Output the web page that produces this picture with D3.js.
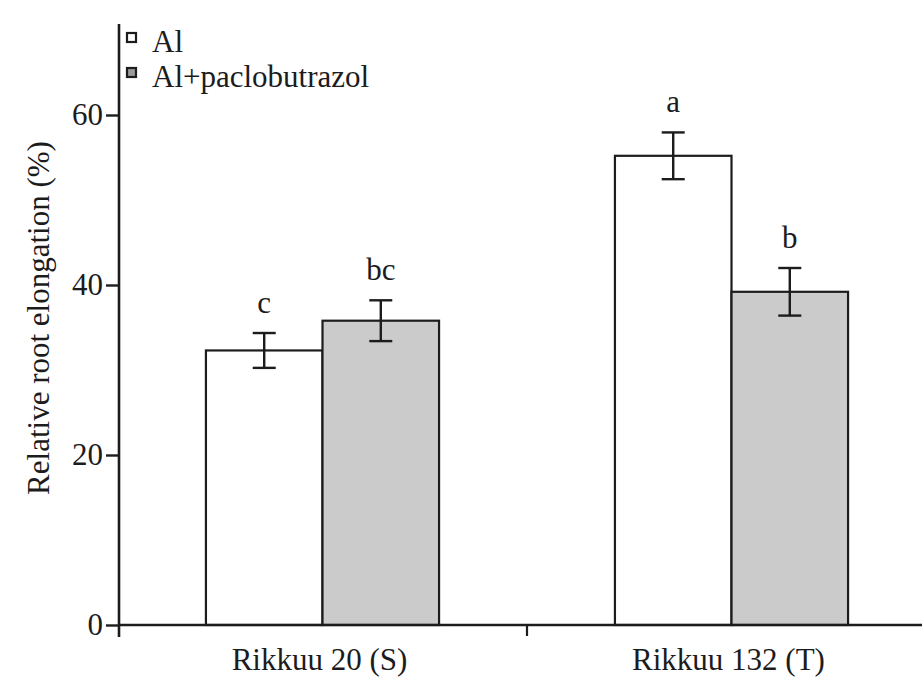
<!DOCTYPE html>
<html>
<head>
<meta charset="utf-8">
<script src="https://cdn.jsdelivr.net/npm/d3@7"></script>
<style>
  body { margin: 0; background: #fff; }
  svg text { font-family: "Liberation Serif", "Times New Roman", serif; fill: #1c1c1c; }
</style>
</head>
<body>
<div id="chart"></div>
<script>
// data
const cultivars = ["Rikkuu 20 (S)", "Rikkuu 132 (T)"];
const treatments = ["Al", "Al+paclobutrazol"];
const alValues = [32.3, 55.2];
const pacloValues = [35.8, 39.2];
const alErrors = [2.05, 2.75];
const pacloErrors = [2.4, 2.8];
const alLetters = ["c", "a"];
const pacloLetters = ["bc", "b"];
const yTicks = [0, 20, 40, 60];

const W = 922, H = 678;
const FS = 31;
const fills = { "Al": "#ffffff", "Al+paclobutrazol": "#cbcbcb" };

const rows = [];
cultivars.forEach((c, i) => {
  rows.push({ cultivar: c, treatment: "Al", value: alValues[i], err: alErrors[i], letter: alLetters[i] });
  rows.push({ cultivar: c, treatment: "Al+paclobutrazol", value: pacloValues[i], err: pacloErrors[i], letter: pacloLetters[i] });
});

const svg = d3.select("#chart").append("svg")
  .attr("width", W).attr("height", H);

const y = d3.scaleLinear().domain([0, 70]).range([625, 30]);
const x = d3.scaleBand().domain(cultivars)
  .range([118, 936]).paddingInner(0.43).paddingOuter(0.215);
const xs = d3.scaleBand().domain(treatments).range([0, x.bandwidth()]);

const axisX = 119;

// bars
svg.selectAll("rect.bar")
  .data(rows)
  .enter()
  .append("rect")
  .attr("class", "bar")
  .attr("x", d => x(d.cultivar) + xs(d.treatment))
  .attr("y", d => y(d.value))
  .attr("width", xs.bandwidth())
  .attr("height", d => y(0) - y(d.value))
  .attr("fill", d => fills[d.treatment])
  .attr("stroke", "#1c1c1c")
  .attr("stroke-width", 2.2);

// error bars
const cap = 11.5;
const eb = svg.selectAll("g.err").data(rows).enter().append("g")
  .attr("class", "err")
  .attr("stroke", "#1c1c1c").attr("stroke-width", 2.4);
const cx = d => x(d.cultivar) + xs(d.treatment) + xs.bandwidth() / 2;
eb.append("line").attr("x1", cx).attr("x2", cx)
  .attr("y1", d => y(d.value + d.err)).attr("y2", d => y(d.value - d.err));
eb.append("line").attr("x1", d => cx(d) - cap).attr("x2", d => cx(d) + cap)
  .attr("y1", d => y(d.value + d.err)).attr("y2", d => y(d.value + d.err));
eb.append("line").attr("x1", d => cx(d) - cap).attr("x2", d => cx(d) + cap)
  .attr("y1", d => y(d.value - d.err)).attr("y2", d => y(d.value - d.err));

// significance letters
svg.selectAll("text.letter").data(rows).enter().append("text")
  .attr("class", "letter")
  .attr("x", cx)
  .attr("y", d => y(d.value + d.err) - 20)
  .attr("text-anchor", "middle")
  .attr("font-size", FS)
  .text(d => d.letter);

// y axis
const yAxis = svg.append("g")
  .attr("transform", `translate(${axisX},0)`)
  .call(d3.axisLeft(y).tickValues(yTicks).tickSize(13).tickPadding(3).tickSizeOuter(0));
yAxis.select(".domain").remove();
yAxis.selectAll(".tick line").attr("stroke", "#1c1c1c").attr("stroke-width", 2.4);
yAxis.selectAll(".tick text")
  .attr("font-size", FS)
  .attr("fill", "#1c1c1c");
svg.append("line")
  .attr("x1", axisX).attr("x2", axisX)
  .attr("y1", 24).attr("y2", y(0) + 12)
  .attr("stroke", "#1c1c1c").attr("stroke-width", 2.6);

// x axis
svg.append("line")
  .attr("x1", axisX).attr("x2", W)
  .attr("y1", y(0)).attr("y2", y(0))
  .attr("stroke", "#1c1c1c").attr("stroke-width", 2.6);
const midX = (x(cultivars[0]) + x.bandwidth() + x(cultivars[1])) / 2;
svg.append("line")
  .attr("x1", midX).attr("x2", midX)
  .attr("y1", y(0)).attr("y2", y(0) + 11)
  .attr("stroke", "#1c1c1c").attr("stroke-width", 2.2);
svg.selectAll("text.cat").data(cultivars).enter().append("text")
  .attr("class", "cat")
  .attr("x", d => x(d) + x.bandwidth() / 2 - 3)
  .attr("y", 670)
  .attr("text-anchor", "middle")
  .attr("font-size", FS)
  .text(d => d);

// y axis title
svg.append("text")
  .attr("transform", `translate(49,${318}) rotate(-90)`)
  .attr("text-anchor", "middle")
  .attr("font-size", FS)
  .text("Relative root elongation (%)");

// legend
const legend = svg.selectAll("g.legend").data(treatments).enter().append("g")
  .attr("class", "legend")
  .attr("transform", (d, i) => `translate(127,${33 + i * 35})`);
legend.append("rect")
  .attr("width", 9).attr("height", 9)
  .attr("fill", d => d === "Al" ? "#fff" : "#9a9a9a")
  .attr("stroke", "#1c1c1c").attr("stroke-width", 2.2);
legend.append("text")
  .attr("x", 25).attr("y", 19)
  .attr("font-size", FS)
  .text(d => d);
</script>
</body>
</html>
